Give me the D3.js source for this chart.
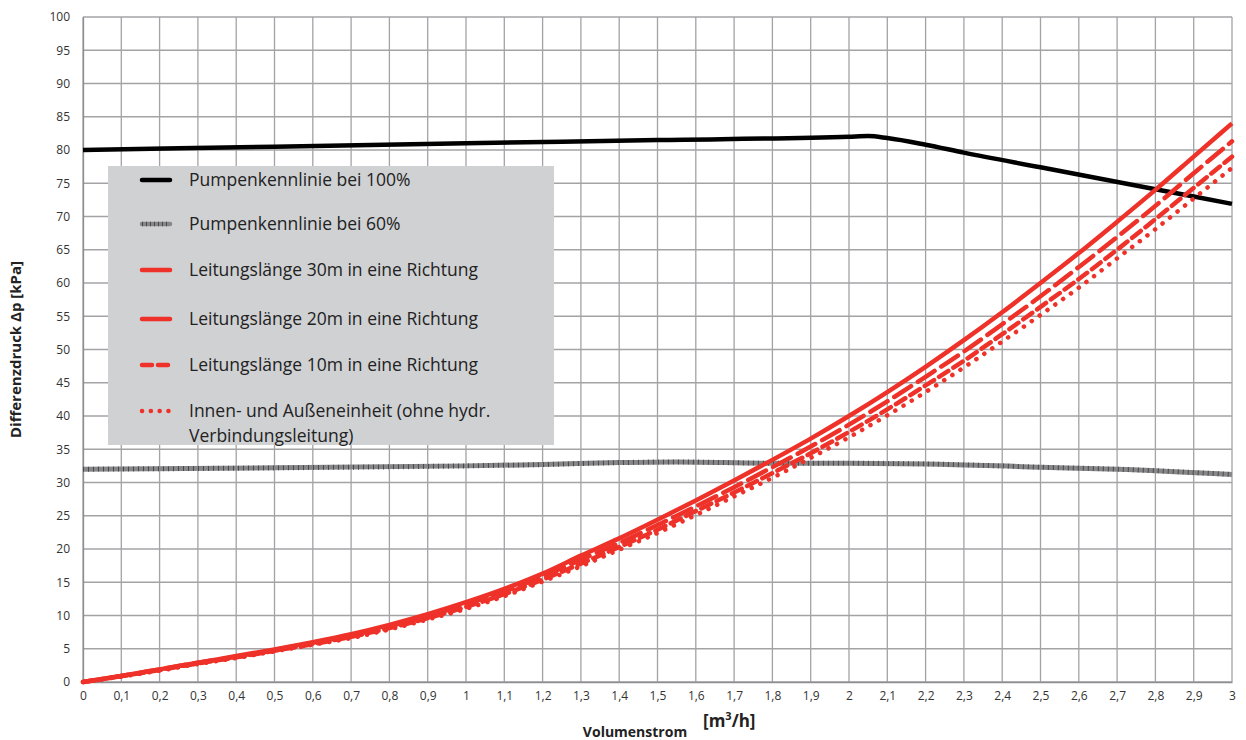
<!DOCTYPE html>
<html>
<head>
<meta charset="utf-8">
<script src="https://cdn.jsdelivr.net/npm/d3@7"></script>
<style>
  body { margin: 0; background: #fff; }
  svg { display: block; font-family: "Open Sans", sans-serif; }
</style>
</head>
<body>
<svg width="1246" height="740"></svg>
<script>
// x values for the pipe curves (m3/h)
var flowSteps = [0, 0.1, 0.2, 0.3, 0.4, 0.5, 0.6, 0.7, 0.8, 0.9, 1.0,
    1.1, 1.2, 1.3, 1.4, 1.5, 1.6, 1.7, 1.8, 1.9, 2.0,
    2.1, 2.2, 2.3, 2.4, 2.5, 2.6, 2.7, 2.8, 2.9, 3.0];

var pipe30 = [0, 0.9, 1.9, 2.9, 3.9, 4.9, 6.0, 7.2, 8.6, 10.2, 12.0,
    14.0, 16.3, 19.0, 21.6, 24.4, 27.3, 30.3, 33.4, 36.6, 40.0,
    43.6, 47.4, 51.4, 55.6, 60.0, 64.5, 69.2, 74.0, 79.0, 84.0];
var pipe20 = [0, 0.9, 1.9, 2.9, 3.8, 4.8, 5.9, 7.0, 8.4, 9.9, 11.7,
    13.6, 15.9, 18.4, 20.9, 23.6, 26.4, 29.3, 32.3, 35.4, 38.7,
    42.2, 45.9, 49.7, 53.8, 58.0, 62.4, 66.9, 71.6, 76.5, 81.3];
var pipe10 = [0, 0.9, 1.8, 2.8, 3.7, 4.7, 5.7, 6.8, 8.1, 9.6, 11.3,
    13.2, 15.4, 17.8, 20.3, 22.9, 25.7, 28.5, 31.4, 34.4, 37.6,
    41.0, 44.6, 48.3, 52.3, 56.4, 60.6, 65.0, 69.6, 74.3, 79.0];
var unitsOnly = [0, 0.8, 1.7, 2.7, 3.6, 4.6, 5.6, 6.6, 7.9, 9.4, 11.0,
    12.9, 15.1, 17.4, 19.9, 22.4, 25.1, 27.9, 30.7, 33.7, 36.8,
    40.1, 43.6, 47.3, 51.2, 55.2, 59.3, 63.7, 68.1, 72.7, 77.3];

// pump curves
var pump100X = [0, 0.5, 1.0, 1.5, 2.0, 2.05, 2.1, 2.2, 2.3, 2.5, 2.8, 3.0];
var pump100Y = [80.0, 80.5, 81.0, 81.5, 82.0, 82.1, 81.8, 80.8, 79.6, 77.4, 74.1, 71.9];
var pump60X = [0, 0.5, 1.0, 1.2, 1.4, 1.55, 1.8, 2.0, 2.2, 2.5, 2.7, 3.0];
var pump60Y = [32.0, 32.2, 32.5, 32.7, 33.0, 33.1, 32.9, 32.9, 32.8, 32.3, 32.0, 31.2];

var xTicks = d3.range(0, 31).map(function(i) { return i / 10; });
var yTicks = d3.range(0, 21).map(function(i) { return i * 5; });

var legendLabels = [
    ["Pumpenkennlinie bei 100%"],
    ["Pumpenkennlinie bei 60%"],
    ["Leitungslänge 30m in eine Richtung"],
    ["Leitungslänge 20m in eine Richtung"],
    ["Leitungslänge 10m in eine Richtung"],
    ["Innen- und Außeneinheit (ohne hydr.", "Verbindungsleitung)"]
];

var RED = "#ee3129";

var svg = d3.select("svg");
var margin = { left: 83, right: 14, top: 17, bottom: 58 };
var width = 1246 - margin.left - margin.right,
    height = 740 - margin.top - margin.bottom;

var x = d3.scaleLinear().domain([0, 3]).range([margin.left, margin.left + width]);
var y = d3.scaleLinear().domain([0, 100]).range([margin.top + height, margin.top]);

var fmt = function(v) { return d3.format(".1~f")(v).replace(".", ","); };

// grid
svg.append("g")
    .selectAll("line")
    .data(xTicks)
    .enter()
    .append("line")
    .attr("x1", function(d) { return x(d); })
    .attr("x2", function(d) { return x(d); })
    .attr("y1", y(0))
    .attr("y2", y(100))
    .attr("stroke", "#a3a3a6")
    .attr("stroke-width", 1.3);

svg.append("g")
    .selectAll("line")
    .data(yTicks)
    .enter()
    .append("line")
    .attr("x1", x(0))
    .attr("x2", x(3))
    .attr("y1", function(d) { return y(d); })
    .attr("y2", function(d) { return y(d); })
    .attr("stroke", "#a3a3a6")
    .attr("stroke-width", 1.3);

// axes (labels only, lines come from grid)
var xAxis = svg.append("g")
    .attr("transform", "translate(0," + y(0) + ")")
    .call(d3.axisBottom(x).tickValues(xTicks).tickSize(0).tickPadding(9).tickFormat(fmt));
var yAxis = svg.append("g")
    .attr("transform", "translate(" + x(0) + ",0)")
    .call(d3.axisLeft(y).tickValues(yTicks).tickSize(0).tickPadding(13).tickFormat(fmt));

[xAxis, yAxis].forEach(function(ax) {
    ax.select(".domain").attr("stroke", "#8e8e92").attr("stroke-width", 1.3);
    ax.selectAll("text")
        .attr("font-family", "Open Sans, sans-serif")
        .attr("font-size", 12)
        .attr("fill", "#333");
});

// line generators
var pipeLine = d3.line()
    .x(function(d, i) { return x(flowSteps[i]); })
    .y(function(d) { return y(d); })
    .curve(d3.curveMonotoneX);

var pumpLine = function(xs) {
    return d3.line()
        .x(function(d, i) { return x(xs[i]); })
        .y(function(d) { return y(d); })
        .curve(d3.curveMonotoneX);
};

// pump 60% : gray band with small dark cross ticks
svg.append("path")
    .attr("d", pumpLine(pump60X)(pump60Y))
    .attr("fill", "none")
    .attr("stroke", "#878789")
    .attr("stroke-width", 5);
svg.append("path")
    .attr("d", pumpLine(pump60X)(pump60Y))
    .attr("fill", "none")
    .attr("stroke", "#3a3a3a")
    .attr("stroke-width", 5)
    .attr("stroke-dasharray", "0.8,4.2");

// pump 100%
svg.append("path")
    .attr("d", pumpLine(pump100X)(pump100Y))
    .attr("fill", "none")
    .attr("stroke", "#000")
    .attr("stroke-width", 4.5);

// pipe curves
var pipes = [
    { values: unitsOnly, dash: "0.1,9.5", cap: "round" },
    { values: pipe10, dash: "11,6", cap: "round" },
    { values: pipe20, dash: "20,8", cap: "round" },
    { values: pipe30, dash: null, cap: "butt" }
];

pipes.forEach(function(p) {
    svg.append("path")
        .attr("d", pipeLine(p.values))
        .attr("fill", "none")
        .attr("stroke", RED)
        .attr("stroke-width", 4.5)
        .attr("stroke-linecap", p.cap)
        .attr("stroke-dasharray", p.dash);
});

// legend
var legend = svg.append("g").attr("transform", "translate(108,166)");
legend.append("rect")
    .attr("width", 446)
    .attr("height", 279)
    .attr("fill", "#d0d1d3");

var rowY = [14, 58, 104, 153, 199, 245];
var legendStyle = [
    { stroke: "#000", dash: null, cap: "round" },
    { stroke: "#878789", dash: null, cap: "round", ticks: true },
    { stroke: RED, dash: null, cap: "round" },
    { stroke: RED, dash: null, cap: "round" },
    { stroke: RED, dash: "10,6", cap: "round" },
    { stroke: RED, dash: "0.1,8.7", cap: "round" }
];

legendLabels.forEach(function(lines, i) {
    var g = legend.append("g").attr("transform", "translate(0," + rowY[i] + ")");
    var s = legendStyle[i];
    g.append("line")
        .attr("x1", 34).attr("x2", 62)
        .attr("stroke", s.stroke)
        .attr("stroke-width", 4.5)
        .attr("stroke-linecap", s.cap)
        .attr("stroke-dasharray", s.dash);
    if (s.ticks) {
        g.append("line")
            .attr("x1", 34).attr("x2", 62)
            .attr("stroke", "#3a3a3a")
            .attr("stroke-width", 4.5)
            .attr("stroke-dasharray", "0.8,3.2");
    }
    g.selectAll("text")
        .data(lines)
        .enter()
        .append("text")
        .attr("x", 81)
        .attr("y", function(d, j) { return j * 25; })
        .attr("dy", "0.35em")
        .attr("font-size", 17.5)
        .attr("fill", "#222")
        .text(function(d) { return d; });
});

// axis titles
svg.append("text")
    .attr("transform", "translate(21," + y(50) + ") rotate(-90)")
    .attr("text-anchor", "middle")
    .attr("font-size", 15)
    .attr("font-weight", "bold")
    .attr("fill", "#222")
    .text("Differenzdruck Δp [kPa]");

svg.append("text")
    .attr("x", 635)
    .attr("y", 737)
    .attr("text-anchor", "middle")
    .attr("font-size", 14)
    .attr("font-weight", "bold")
    .attr("fill", "#222")
    .text("Volumenstrom");

var unit = svg.append("text")
    .attr("x", 703)
    .attr("y", 727)
    .attr("font-size", 17)
    .attr("font-weight", "bold")
    .attr("fill", "#222");
unit.append("tspan").text("[m");
unit.append("tspan").attr("font-size", 11).attr("dy", -7).text("3");
unit.append("tspan").attr("dy", 7).text("/h]");
</script>
</body>
</html>
